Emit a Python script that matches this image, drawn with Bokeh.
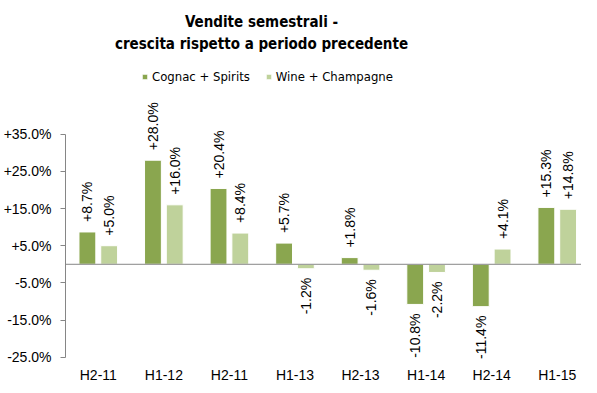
from bokeh.plotting import figure
from bokeh.models import (ColumnDataSource, Range1d, FixedTicker, Span, Label,
                          Legend, LegendItem)
from bokeh.transform import dodge
from bokeh.core.properties import value
from bokeh.embed import file_html
from bokeh.resources import INLINE
import numpy as np

# ---- data ----
categories = ["H2-11", "H1-12", "H2-11", "H1-13", "H2-13", "H1-14", "H2-14", "H1-15"]
cognac = [8.7, 28.0, 20.4, 5.7, 1.8, -10.8, -11.4, 15.3]
wine = [5.0, 16.0, 8.4, -1.2, -1.6, -2.2, 4.1, 14.8]
series_names = ["Cognac + Spirits", "Wine + Champagne"]
y_ticks = [-25, -15, -5, 5, 15, 25, 35]
y_tick_labels = ["-25.0%", "-15.0%", "-5.0%", "+5.0%", "+15.0%", "+25.0%", "+35.0%"]
title_lines = ["Vendite semestrali -", "crescita rispetto a periodo precedente"]

DARK = "#8aa64f"
LIGHT = "#bfd29b"
NARROW = "DejaVu Sans Condensed"
SANS = "Liberation Sans"

idx = list(range(len(categories)))


def fmt(v):
    return ("+" if v >= 0 else "") + f"{v:.1f}%"


src = ColumnDataSource(dict(x=idx, cognac=cognac, wine=wine))

p = figure(width=581, height=385, output_backend="svg", toolbar_location=None,
           x_range=Range1d(-0.5, 7.37), y_range=Range1d(-32.61, 70.97),
           min_border_left=60, min_border_right=0, min_border_top=0,
           min_border_bottom=0)
p.outline_line_color = None
p.grid.visible = False
p.background_fill_color = "white"
p.border_fill_color = "white"

W = 0.257
OFF = 0.166
r1 = p.vbar(x=dodge("x", -OFF), top="cognac", bottom=0, width=W, source=src,
            fill_color=DARK, line_color="white", line_width=1)
r2 = p.vbar(x=dodge("x", OFF), top="wine", bottom=0, width=W, source=src,
            fill_color=LIGHT, line_color="white", line_width=1)

p.add_layout(Span(location=0, dimension="width", line_color="#868686", line_width=1))

# value labels (rotated)
for vals, off in ((cognac, -OFF), (wine, OFF)):
    pos = ColumnDataSource(dict(
        x=[i for i, v in zip(idx, vals) if v >= 0],
        y=[v for v in vals if v >= 0],
        t=[fmt(v) for v in vals if v >= 0]))
    neg = ColumnDataSource(dict(
        x=[i for i, v in zip(idx, vals) if v < 0],
        y=[v for v in vals if v < 0],
        t=[fmt(v) for v in vals if v < 0]))
    p.text(x=dodge("x", off), y="y", text="t", source=pos, angle=np.pi / 2,
           text_align="left", text_baseline="middle", y_offset=-10,
           text_font=value(SANS), text_font_size="14px", text_color="#000000")
    p.text(x=dodge("x", off), y="y", text="t", source=neg, angle=np.pi / 2,
           text_align="right", text_baseline="middle", y_offset=9,
           text_font=value(SANS), text_font_size="14px", text_color="#000000")

# axes
xa = p.xaxis[0]
xa.fixed_location = -25
xa.ticker = FixedTicker(ticks=idx)
xa.major_label_overrides = {i: c for i, c in zip(idx, categories)}
xa.axis_line_color = None
xa.major_tick_line_color = None
xa.major_tick_out = 0
xa.major_tick_in = 0
xa.minor_tick_line_color = None
xa.minor_tick_out = 0
xa.major_label_standoff = 10
xa.major_label_text_font = SANS
xa.major_label_text_font_size = "14px"
xa.major_label_text_color = "#000000"

ya = p.yaxis[0]
ya.ticker = FixedTicker(ticks=y_ticks)
ya.major_label_overrides = {t: l for t, l in zip(y_ticks, y_tick_labels)}
ya.bounds = (-25, 35)
ya.axis_line_color = "#868686"
ya.major_tick_line_color = "#868686"
ya.major_tick_in = 0
ya.major_tick_out = 5
ya.minor_tick_line_color = None
ya.major_label_standoff = 9
ya.major_label_text_font = SANS
ya.major_label_text_font_size = "14px"
ya.major_label_text_color = "#000000"

# title
for line, yy in zip(title_lines, (363.5, 341.5)):
    p.add_layout(Label(x=196, y=yy, x_units="screen", y_units="screen", text=line,
                       text_align="center", text_baseline="middle",
                       text_font=NARROW, text_font_size="15px",
                       text_font_style="bold", text_color="#000000"))

legend = Legend(items=[LegendItem(label=series_names[0], renderers=[r1]),
                       LegendItem(label=series_names[1], renderers=[r2])],
                orientation="horizontal", location=(76, 301),
                background_fill_alpha=0, border_line_color=None,
                glyph_width=7, glyph_height=7, label_standoff=4, spacing=15,
                padding=0, margin=0,
                label_text_font=NARROW, label_text_font_size="13px",
                label_text_color="#000000")
p.add_layout(legend)

open("out.html", "w").write(file_html(p, INLINE))
